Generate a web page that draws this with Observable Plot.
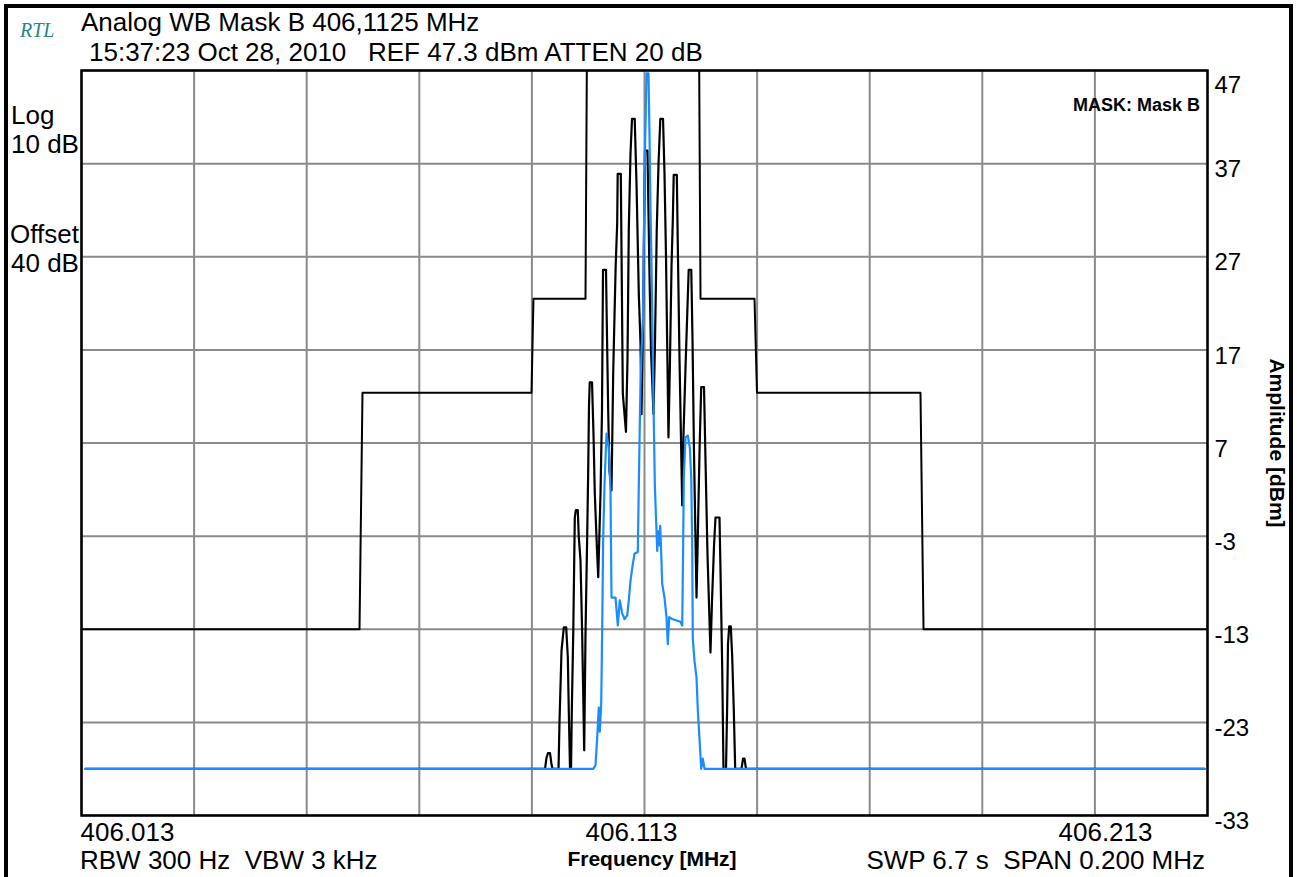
<!DOCTYPE html>
<html>
<head>
<meta charset="utf-8">
<script src="https://cdn.jsdelivr.net/npm/d3@7"></script>
<script src="https://cdn.jsdelivr.net/npm/@observablehq/plot@0.6"></script>
<style>
  html, body { margin: 0; padding: 0; background: #fff; }
  #screen { position: relative; width: 1297px; height: 877px; overflow: hidden; background: #fff;
            font-family: "Liberation Sans", Arial, sans-serif; color: #000; }
  #screen > svg { position: absolute; left: 0; top: 0; }
  .lbl { position: absolute; line-height: 1; white-space: pre; }
  #bezel { position: absolute; left: 4px; top: 4px; width: 1289px; height: 900px;
           box-sizing: border-box; border: 4px solid #000; }
</style>
</head>
<body>
<div id="screen"></div>
<script>
// Frequency axis (MHz): gridlines every 20 kHz, three printed frequencies
const xGrid = [406.013, 406.033, 406.053, 406.073, 406.093, 406.113, 406.133, 406.153, 406.173, 406.193, 406.213];
const xLabels = [406.013, 406.113, 406.213];
// Amplitude axis (dBm), 10 dB/div
const yTicks = [47, 37, 27, 17, 7, -3, -13, -23, -33];

// Mask B limit line
const maskFreq  = [406.013, 406.06238, 406.06291, 406.09293, 406.09328, 406.10252, 406.10288,
                   406.12259, 406.12295, 406.13254, 406.13298, 406.16202, 406.16256, 406.213];
const maskLevel = [-13, -13, 12.4, 12.4, 22.5, 22.5, 60, 60, 22.5, 22.5, 12.4, 12.4, -13, -13];

// Max-hold trace (black): FM sideband comb
const holdFreq = [406.01371, 406.09533, 406.09559, 406.09586, 406.09622, 406.09648, 406.09666,
  406.09773, 406.09790, 406.09826, 406.09867, 406.09909, 406.09938, 406.09955, 406.09977,
  406.09995, 406.10009, 406.10035, 406.10062, 406.10080, 406.10115, 406.10133, 406.10163,
  406.10193, 406.10229, 406.10252, 406.10282, 406.10300, 406.10314, 406.10327, 406.10368,
  406.10394, 406.10417, 406.10453, 406.10478, 406.10519, 406.10545, 406.10554, 406.10563,
  406.10616, 406.10630, 406.10655, 406.10678, 406.10714, 406.10744, 406.10767, 406.10788,
  406.10815, 406.10824, 406.10879, 406.10891, 406.10915, 406.10971, 406.10998, 406.11021,
  406.11051, 406.11078, 406.11126, 406.11158, 406.11199, 406.11229, 406.11247, 406.11273,
  406.11309, 406.11353, 406.11389, 406.11415, 406.11460, 406.11487, 406.11518, 406.11549,
  406.11581, 406.11629, 406.11655, 406.11682, 406.11709, 406.11726, 406.11753, 406.11780,
  406.11803, 406.11819, 406.11874, 406.11892, 406.11922, 406.11970, 406.11993, 406.12028,
  406.12060, 406.12085, 406.12131, 406.12153, 406.12179, 406.12224, 406.12247, 406.12277,
  406.12307, 406.12357, 406.12384, 406.12419, 406.12472, 406.12499, 406.12535, 406.12561,
  406.12632, 406.12654, 406.12680, 406.12703, 406.12748, 406.12769, 406.12783, 406.12804,
  406.12833, 406.12858, 406.12886, 406.12911, 406.13023, 406.13050, 406.13076, 406.13103,
  406.21247];
const holdLevel = [-28, -28, -26.8, -26.3, -26.3, -27.5, -28,
  -28, -23, -15.3, -12.8, -12.8, -16, -21.7, -28,
  -28, -21.7, -13.2, -1, -0.2, -0.2, -3.1, -5.6,
  -13.5, -26, -13.5, -3, 4, 11, 13.5, 13.5,
  8, 1.6, -4, -7.4, 1.6, 10.5, 18, 25.6,
  25.6, 20, 10.5, 4, 1.9, 14.5, 20.6, 26,
  30.6, 35.9, 35.9, 28, 12.3, 8.2, 16, 30,
  38, 41.8, 41.8, 34.9, 23, 17.7, 10.1, 20,
  38.4, 38.4, 25, 17, 10.1, 18, 30, 37,
  41.8, 41.8, 36, 27, 15, 7.6, 16, 26,
  31, 35.8, 35.8, 28, 16, 0.3, 8, 15,
  21, 25.6, 25.6, 18, 6, -9.6, -3, 6,
  13, 13, 5, -5, -15.5, -10, -4, -1,
  -1, -8, -17, -28, -28, -21, -14.6, -12.7,
  -12.7, -16, -21.7, -28, -28, -26.9, -26.9, -28,
  -28];

// Clear/write trace (blue)
const liveFreq = [406.01371, 406.10389, 406.10430, 406.10460, 406.10488, 406.10506, 406.10531,
  406.10549, 406.10566, 406.10590, 406.10625, 406.10666, 406.10696, 406.10714, 406.10785,
  406.10826, 406.10861, 406.10904, 406.10945, 406.10993, 406.11021, 406.11051, 406.11092,
  406.11122, 406.11181, 406.11199, 406.11229, 406.11247, 406.11273, 406.11291, 406.11309,
  406.11336, 406.11371, 406.11389, 406.11407, 406.11433, 406.11455, 406.11469, 406.11483,
  406.11501, 406.11513, 406.11526, 406.11540, 406.11558, 406.11579, 406.11597, 406.11614,
  406.11655, 406.11691, 406.11714, 406.11739, 406.11792, 406.11939, 406.11970, 406.11987,
  406.11998, 406.12028, 406.12069, 406.12105, 406.12130, 406.12147, 406.12158, 406.12188,
  406.12224, 406.12247, 406.12282, 406.12307, 406.12336, 406.12366, 406.21247];
const liveLevel = [-28, -28, -27.6, -24.6, -21.4, -24, -21,
  -12.8, -3.1, 2.6, 8, 6.5, 1.9, -9.6, -9.6,
  -12.6, -9.9, -11.3, -11.9, -11.5, -9.9, -7.8, -6,
  -4.9, -4.7, 2.6, 13.4, 16.9, 20, 30, 38.4,
  46.7, 46.7, 40, 32, 23, 13, 8, 2.6,
  -0.5, -2.3, -4.6, -2.5, -4, -1.9, -4.8, -8.1,
  -9.6, -11.7, -14.6, -11.7, -11.9, -12.2, -12.6, -3.8,
  3.3, 7.6, 7.8, 6.5, 3.3, -3.8, -14, -16.4,
  -18.2, -21.7, -25.3, -28, -26.9, -28, -28];

const toRows = (f, v) => f.map((freq, i) => ({freq, level: v[i]}));
const mask = toRows(maskFreq, maskLevel);
const hold = toRows(holdFreq, holdLevel);
const live = toRows(liveFreq, liveLevel);

const gridStyle = {stroke: "#8a8a8a", strokeOpacity: 1, strokeWidth: 2};
const fmt = d => String(d);

const chart = Plot.plot({
  width: 1297,
  height: 877,
  marginTop: 70,
  marginRight: 90,
  marginBottom: 62,
  marginLeft: 81,
  style: {background: "transparent", fontFamily: "'Liberation Sans', Arial, sans-serif", fontSize: "24px", color: "#000"},
  x: {domain: [xLabels[0], xLabels[2]], axis: null},
  y: {domain: [yTicks[yTicks.length - 1], yTicks[0]], axis: null},
  marks: [
    Plot.gridX(xGrid, gridStyle),
    Plot.gridY(yTicks, gridStyle),
    Plot.line(mask, {x: "freq", y: "level", stroke: "#000", strokeWidth: 2, clip: true}),
    Plot.line(hold, {x: "freq", y: "level", stroke: "#000", strokeWidth: 2.2, clip: true}),
    Plot.line(live, {x: "freq", y: "level", stroke: "#1a8cff", strokeWidth: 2.2, clip: true}),
    Plot.frame({stroke: "#000", strokeWidth: 2.5}),
    Plot.axisY(yTicks.slice(0, 1), {anchor: "right", tickSize: 0, tickPadding: 7, dy: 15, fontSize: 24, tickFormat: fmt, label: null}),
    Plot.axisY(yTicks.slice(1), {anchor: "right", tickSize: 0, tickPadding: 7, dy: 6, fontSize: 24, tickFormat: fmt, label: null}),
    Plot.text(xLabels.slice(0, 1), {x: d => d, text: d => d.toFixed(3), frameAnchor: "bottom", lineAnchor: "bottom", textAnchor: "start", dy: 25, dx: -1, fontSize: 26}),
    Plot.text(xLabels.slice(1, 2), {x: d => d, text: d => d.toFixed(3), frameAnchor: "bottom", lineAnchor: "bottom", textAnchor: "middle", dy: 25, dx: -13, fontSize: 26}),
    Plot.text(xLabels.slice(2, 3), {x: d => d, text: d => d.toFixed(3), frameAnchor: "bottom", lineAnchor: "bottom", textAnchor: "middle", dy: 25, dx: -102, fontSize: 26})
  ]
});

const screen = document.getElementById("screen");
screen.appendChild(chart);

// Instrument annotations around the graticule
function label(text, x, baseline, o = {}) {
  const size = o.size || 26;
  const el = document.createElement("div");
  el.className = "lbl";
  el.textContent = text;
  el.style.fontSize = size + "px";
  if (o.weight) el.style.fontWeight = o.weight;
  if (o.family) el.style.fontFamily = o.family;
  if (o.italic) el.style.fontStyle = "italic";
  if (o.color) el.style.color = o.color;
  el.style.left = x + "px";
  el.style.top = (baseline - 0.8465 * size) + "px";
  const shift = o.anchor === "middle" ? "-50%" : o.anchor === "end" ? "-100%" : "0";
  el.style.transform = `translateX(${shift})`;
  screen.appendChild(el);
  return el;
}

label("RTL", 20, 37, {size: 20, italic: true, family: "'Liberation Serif', 'Times New Roman', serif", color: "#23878a"});
label("Analog WB Mask B 406,1125 MHz", 81, 31);
label("15:37:23 Oct 28, 2010   REF 47.3 dBm ATTEN 20 dB", 89, 61);
label("Log", 11, 124);
label("10 dB", 11, 153);
label("Offset", 10, 243);
label("40 dB", 11, 272);
label("MASK: Mask B", 1200, 111, {size: 18, weight: "bold", anchor: "end"});
label("RBW 300 Hz  VBW 3 kHz", 80, 869);
label("Frequency [MHz]", 652, 866, {size: 21, weight: "bold", anchor: "middle"});
label("SWP 6.7 s  SPAN 0.200 MHz", 1205, 869, {anchor: "end"});

const amp = document.createElement("div");
amp.className = "lbl";
amp.textContent = "Amplitude [dBm]";
Object.assign(amp.style, {fontSize: "21px", fontWeight: "bold", left: "1277px", top: "443px",
  transform: "translate(-50%, -50%) rotate(90deg)"});
screen.appendChild(amp);

const bezel = document.createElement("div");
bezel.id = "bezel";
screen.appendChild(bezel);
</script>
</body>
</html>
